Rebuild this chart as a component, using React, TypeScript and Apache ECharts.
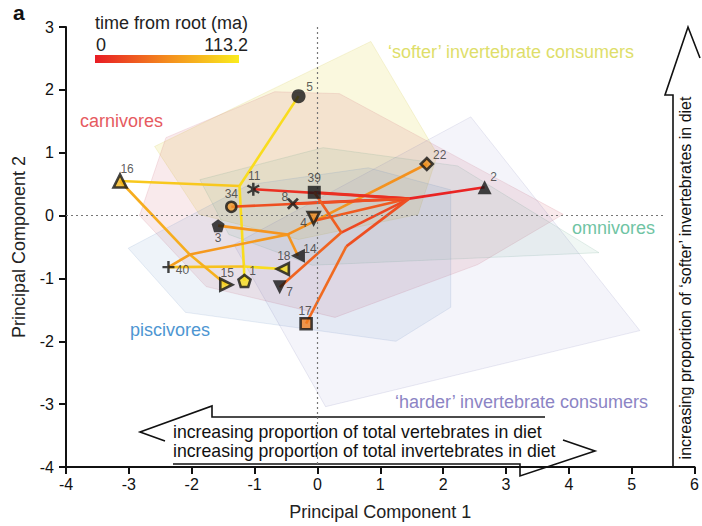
import React, { useEffect, useRef } from 'react';
import * as echarts from 'echarts';

// ---- tips (species) ----
const TIP_IDS = ['5', '16', '11', '39', '34', '8', '4', '22', '2', '3', '14', '18', '40', '15', '1', '7', '17'];
const TIP_X = [-0.30, -3.14, -1.02, -0.05, -1.37, -0.39, -0.06, 1.74, 2.66, -1.58, -0.31, -0.55, -2.37, -1.45, -1.16, -0.60, -0.18];
const TIP_Y = [1.90, 0.55, 0.42, 0.37, 0.14, 0.19, -0.04, 0.82, 0.45, -0.16, -0.64, -0.85, -0.82, -1.10, -1.04, -1.14, -1.72];

// ---- reconstructed internal nodes ----
const NODE_IDS = ['N1', 'N2', 'C', 'B', 'D', 'H', 'F', 'E'];
const NODE_X = [-1.24, -1.17, -2.03, -0.47, -0.03, 1.46, 0.38, 0.46];
const NODE_Y = [0.47, -0.81, -0.62, -0.30, -0.08, 0.27, -0.27, -0.49];

// ---- branches (time from root, ma) ----
const EDGE_FROM = ['5', '16', 'N1', 'N2', '40', 'N2', '16', 'C', '40', 'C', '3', 'B', 'B', 'D', 'D', '4', 'H', '11', '39', '8', '34', 'H', 'F', 'F', 'H', 'E'];
const EDGE_TO = ['N1', 'N1', 'N2', '1', 'N2', '18', 'C', '15', 'C', 'B', 'B', '14', 'D', '22', 'H', 'D', '2', 'H', 'H', 'H', 'H', 'F', '39', '7', 'E', '17'];
const EDGE_TIME = [104, 92, 104, 108, 88, 104, 76, 78, 68, 64, 62, 62, 58, 60, 32, 48, 4, 10, 10, 8, 26, 22, 34, 36, 26, 40];
const TIME_MAX = 113.2;

// ---- diet-group convex hulls ----
const HULL_SOFTER = [[-2.59, 1.10], [0.85, 2.77], [1.91, 0.97], [1.60, 0.02], [-0.30, -0.38], [-1.88, 0.02]];
const HULL_CARNIVORES = [[-0.68, 1.97], [0.35, 1.94], [3.91, 0.02], [2.55, -0.78], [0.28, -1.62], [-1.77, -1.13], [-2.83, 0.0], [-2.41, 1.24]];
const HULL_PISCIVORES = [[-3.01, -0.52], [-2.10, -1.54], [1.25, -2.00], [2.12, -1.46], [2.12, 0.41], [0.81, 0.76], [-1.09, 0.49]];
const HULL_OMNIVORES = [[-1.87, 0.57], [0.09, 1.08], [2.23, 0.79], [4.48, -0.59], [-0.08, -0.79], [-1.41, -0.30]];
const HULL_HARDER = [[-1.33, -0.46], [2.44, 1.57], [5.13, -1.83], [0.13, -3.04]];

const X_TICKS = { min: -4, max: 6, interval: 1 };
const Y_TICKS = { min: -4, max: 3, interval: 1 };

const FONT = '"Liberation Sans", Arial, sans-serif';

const HULLS = [HULL_SOFTER, HULL_CARNIVORES, HULL_PISCIVORES, HULL_OMNIVORES, HULL_HARDER];
const HULL_FILL = [
  'rgba(225,215,60,0.17)',
  'rgba(205,80,100,0.12)',
  'rgba(88,142,200,0.10)',
  'rgba(70,150,120,0.08)',
  'rgba(113,113,185,0.08)',
];
const HULL_STROKE = [
  'rgba(210,200,80,0.25)',
  'rgba(200,90,110,0.2)',
  'rgba(100,140,190,0.2)',
  'rgba(90,150,130,0.2)',
  'rgba(120,120,180,0.2)',
];

const P = (s: string) => 'path://' + s;
const SYM: Record<string, string> = {
  circle: 'circle',
  square: 'rect',
  diamond: 'diamond',
  tri: 'triangle',
  pentagon: P('M0,-10 L9.51,-3.09 L5.88,8.09 L-5.88,8.09 L-9.51,-3.09 Z'),
  plus: P('M-2,-10 L2,-10 L2,-2 L10,-2 L10,2 L2,2 L2,10 L-2,10 L-2,2 L-10,2 L-10,-2 L-2,-2 Z'),
  x: P('M-8.5,-5.7 L-5.7,-8.5 L0,-2.8 L5.7,-8.5 L8.5,-5.7 L2.8,0 L8.5,5.7 L5.7,8.5 L0,2.8 L-5.7,8.5 L-8.5,5.7 L-2.8,0 Z'),
  asterisk: P('M-1.6,-10 L1.6,-10 L1.6,-3.9 L6.9,-7 L8.5,-4.2 L3.2,-1.1 L3.2,1.1 L8.5,4.2 L6.9,7 L1.6,3.9 L1.6,10 L-1.6,10 L-1.6,3.9 L-6.9,7 L-8.5,4.2 L-3.2,1.1 L-3.2,-1.1 L-8.5,-4.2 L-6.9,-7 L-1.6,-3.9 Z'),
};

// marker style per tip: [shape, rotation, size, interior fill or null for solid black, label offset]
const MARK: Record<string, [string, number, number, string | null, [number, number]]> = {
  '5': ['circle', 0, 14, null, [11, -9]],
  '16': ['tri', 0, 13, '#f3b51c', [7, -12]],
  '11': ['asterisk', 0, 13, null, [1, -13]],
  '39': ['square', 0, 13, null, [0, -14]],
  '34': ['circle', 0, 10, '#f39a2a', [0, -13]],
  '8': ['x', 0, 12, null, [-8, -7]],
  '4': ['tri', 180, 12, '#f08a1a', [-10, 5]],
  '22': ['diamond', 0, 12, '#f0901c', [13, -9]],
  '2': ['tri', 0, 14, null, [9, -10]],
  '3': ['pentagon', 0, 13, null, [0, 12]],
  '14': ['tri', 90, 14, null, [12, -7]],
  '18': ['tri', 90, 12, '#f4dc1c', [1, -13]],
  '40': ['plus', 0, 12, null, [14, 3]],
  '15': ['tri', -90, 12, '#f4d41c', [1, -12]],
  '1': ['pentagon', 0, 12, '#f6dc1c', [8, -10]],
  '7': ['tri', 180, 14, null, [10, 5]],
  '17': ['square', 0, 11, '#f08020', [-1, -13]],
};

function timeColor(t: number) {
  const f = Math.max(0, Math.min(1, t / TIME_MAX));
  const stops = [
    [0, 232, 28, 36],
    [0.5, 244, 140, 30],
    [1, 250, 236, 30],
  ];
  let a = stops[0], b = stops[1];
  if (f > 0.5) { a = stops[1]; b = stops[2]; }
  const k = (f - a[0]) / (b[0] - a[0]);
  const c = [1, 2, 3].map((i) => Math.round(a[i] + (b[i] - a[i]) * k));
  return `rgb(${c[0]},${c[1]},${c[2]})`;
}

function nodePos(id: string): [number, number] {
  const ti = TIP_IDS.indexOf(id);
  if (ti >= 0) return [TIP_X[ti], TIP_Y[ti]];
  const ni = NODE_IDS.indexOf(id);
  return [NODE_X[ni], NODE_Y[ni]];
}

function text(x: number, y: number, str: string, fill: string, font: string, align = 'left', extra: any = {}) {
  return {
    type: 'text',
    x,
    y,
    z: 50,
    ...extra,
    style: { text: str, fill, font: `${font} ${FONT}`, align, verticalAlign: 'middle' },
  };
}

export default function App() {
  const ref = useRef<HTMLDivElement>(null);
  useEffect(() => {
    if (!ref.current) return;
    const chart = echarts.init(ref.current, null, { renderer: 'svg' });

    const edgeData = EDGE_FROM.map((f, i) => ({
      coords: [nodePos(f), nodePos(EDGE_TO[i])],
      lineStyle: { color: timeColor(EDGE_TIME[i]) },
    }));

    const tipData = TIP_IDS.map((id, i) => {
      const [shape, rot, size, fill, off] = MARK[id];
      return {
        value: [TIP_X[i], TIP_Y[i]],
        name: id,
        symbol: SYM[shape],
        symbolRotate: rot,
        symbolSize: size,
        itemStyle: fill
          ? { color: fill, borderColor: '#151515', borderWidth: 2.6 }
          : { color: '#151515', borderWidth: 0 },
        label: { show: true, formatter: id, position: 'inside', offset: off },
      };
    });

    const option: any = {
      animation: false,
      grid: { left: 66, right: 4, top: 27, bottom: 58.5, containLabel: false },
      xAxis: {
        type: 'value',
        ...X_TICKS,
        axisLine: { show: true, onZero: false, lineStyle: { color: '#111', width: 2 } },
        axisTick: { show: true, length: 7, lineStyle: { color: '#111', width: 2 } },
        axisLabel: { color: '#111', fontSize: 16, fontFamily: FONT, margin: 9 },
        splitLine: { show: false },
        name: 'Principal Component 1',
        nameLocation: 'middle',
        nameGap: 36,
        nameTextStyle: { fontSize: 18, color: '#222', fontFamily: FONT },
      },
      yAxis: {
        type: 'value',
        ...Y_TICKS,
        axisLine: { show: true, onZero: false, lineStyle: { color: '#111', width: 2 } },
        axisTick: { show: true, length: 7, lineStyle: { color: '#111', width: 2 } },
        axisLabel: { color: '#111', fontSize: 16, fontFamily: FONT, margin: 12 },
        splitLine: { show: false },
        name: 'Principal Component 2',
        nameLocation: 'middle',
        nameGap: 38,
        nameTextStyle: { fontSize: 18, color: '#222', fontFamily: FONT },
      },
      series: [
        {
          type: 'custom',
          coordinateSystem: 'cartesian2d',
          silent: true,
          z: 1,
          data: HULLS.map((h, i) => [h[0][0], h[0][1], i]),
          renderItem: (params: any, api: any) => {
            const i = params.dataIndex;
            return {
              type: 'polygon',
              shape: { points: HULLS[i].map((p) => api.coord(p)) },
              style: { fill: HULL_FILL[i], stroke: HULL_STROKE[i], lineWidth: 0.8 },
            };
          },
        },
        {
          type: 'line',
          data: [],
          z: 2,
          silent: true,
          markLine: {
            silent: true,
            symbol: 'none',
            label: { show: false },
            lineStyle: { color: '#777', width: 1.2, type: [2, 3] },
            data: [
              [{ coord: [0, 3] }, { coord: [0, -4] }],
              [{ coord: [-4, 0] }, { coord: [5.5, 0] }],
            ],
          },
        },
        {
          type: 'lines',
          coordinateSystem: 'cartesian2d',
          polyline: false,
          silent: true,
          z: 3,
          lineStyle: { width: 2.6, opacity: 1 },
          data: edgeData,
        },
        {
          type: 'scatter',
          z: 5,
          silent: true,
          label: { color: '#333', fontSize: 12, fontFamily: FONT },
          data: tipData,
        },
      ],
      graphic: [
        text(13, 12, 'a', '#111', 'bold 21px'),
        text(95, 23, 'time from root (ma)', '#222', '18px'),
        text(96, 45, '0', '#222', '18px'),
        text(248, 45, '113.2', '#222', '18px', 'right'),
        {
          type: 'rect',
          shape: { x: 95, y: 55, width: 144, height: 8 },
          style: {
            fill: new echarts.graphic.LinearGradient(0, 0, 1, 0, [
              { offset: 0, color: timeColor(0) },
              { offset: 0.5, color: timeColor(TIME_MAX / 2) },
              { offset: 1, color: timeColor(TIME_MAX) },
            ]),
          },
        },
        text(80, 121, 'carnivores', '#e65a60', '18px'),
        text(388, 52, '\u2018softer\u2019 invertebrate consumers', '#dede6a', '18px'),
        text(572, 228, 'omnivores', '#70c4a4', '18px'),
        text(130, 330, 'piscivores', '#4e96d2', '18px'),
        text(395, 402, '\u2018harder\u2019 invertebrate consumers', '#8c84c4', '18px'),
        {
          type: 'polyline',
          shape: { points: [[545, 417], [212, 417], [212, 406], [140, 432], [165, 441]] },
          style: { stroke: '#111', lineWidth: 1.6, fill: 'none' },
        },
        text(173, 432, 'increasing proportion of total vertebrates in diet', '#111', '17.7px'),
        text(173, 451, 'increasing proportion of total invertebrates in diet', '#111', '17.7px'),
        {
          type: 'polyline',
          shape: { points: [[173, 464], [520, 464], [520, 476], [595, 451], [563, 440]] },
          style: { stroke: '#111', lineWidth: 1.6, fill: 'none' },
        },
        {
          type: 'polyline',
          shape: { points: [[673, 468], [673, 95], [665, 95], [688, 27], [700, 58]] },
          style: { stroke: '#111', lineWidth: 1.6, fill: 'none' },
        },
        text(685, 278, 'increasing proportion of \u2018softer\u2019 invertebrates in diet', '#111', '16px', 'center', { rotation: Math.PI / 2 }),
      ],
    };
    chart.setOption(option);
    return () => chart.dispose();
  }, []);
  return <div ref={ref} style={{ width: 702, height: 526, position: 'absolute', left: 0, top: 0 }} />;
}
